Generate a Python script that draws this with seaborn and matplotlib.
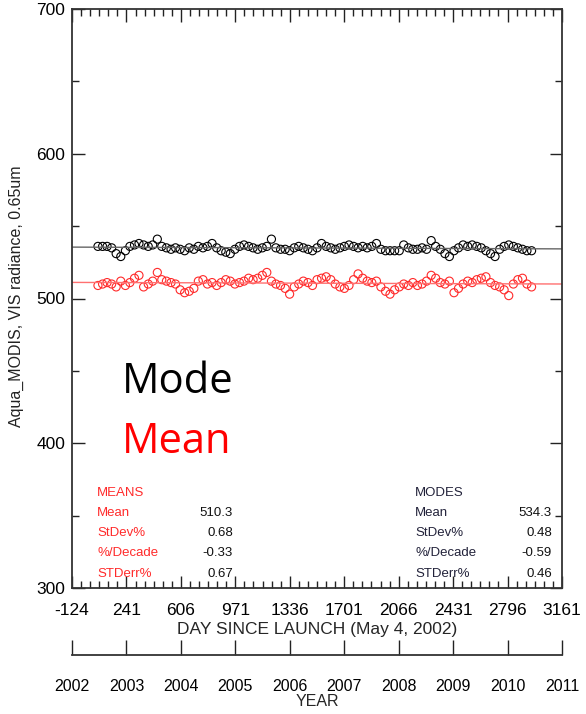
import numpy as np
import pandas as pd
import matplotlib
matplotlib.use('Agg')
import matplotlib.pyplot as plt
from matplotlib.ticker import AutoMinorLocator
import seaborn as sns

# days since launch of each monthly sample
days = [50, 81, 111, 142, 172, 203, 234, 264, 295, 325, 356, 387, 417, 448, 478, 509,
        540, 570, 601, 631, 662, 693, 723, 754, 784, 815, 846, 876, 907, 937, 968, 999,
        1029, 1060, 1090, 1121, 1152, 1182, 1213, 1243, 1274, 1305, 1335, 1366, 1396, 1427,
        1458, 1488, 1519, 1549, 1580, 1611, 1641, 1672, 1702, 1733, 1764, 1794, 1825, 1855,
        1886, 1917, 1947, 1978, 2008, 2039, 2070, 2100, 2131, 2161, 2192, 2223, 2253, 2284,
        2314, 2345, 2376, 2406, 2437, 2467, 2498, 2529, 2559, 2590, 2620, 2651, 2682, 2712,
        2743, 2773, 2804, 2835, 2865, 2896, 2926, 2957]

mode_vals = [536, 536, 536, 535, 531, 529, 533, 536, 537, 538, 537, 536, 537, 541,
             536, 535, 534, 535, 534, 533, 535, 534, 536, 535, 536, 538, 535, 533, 532, 531,
             534, 536, 537, 536, 535, 534, 535, 536, 541,
             535, 534, 534, 533, 535, 536, 535, 534, 533, 535, 538,
             536, 535, 534, 535, 536, 537, 536, 535, 536, 535, 536, 538,
             534, 533, 533, 533, 533, 537, 535, 534, 534, 535, 534, 540,
             536, 534, 531, 529, 533, 535, 537, 536, 537, 536, 535, 533,
             531, 529, 534, 536, 537, 536, 535, 534, 533, 533]

mean_vals = [509, 510, 511, 510, 508, 512, 509, 511, 514, 516, 508, 510, 512, 518,
             513, 512, 511, 510, 506, 504, 505, 507, 512, 513, 510, 511, 509,
             511, 513, 512, 510, 511, 512, 514, 513, 514, 516, 518, 512, 510, 509,
             507, 503, 508, 510, 512, 511, 509, 513, 514, 515, 513, 510, 508, 507, 509,
             513, 517, 514, 512, 511, 512, 508, 505, 503, 506, 508, 510, 509, 511, 509,
             510, 512, 516, 514, 511, 510, 512, 504, 507, 510, 512, 511, 513, 514, 515,
             511, 509, 508, 506, 502, 510, 513, 514, 510, 508]

day_ticks = [-124, 241, 606, 971, 1336, 1701, 2066, 2431, 2796, 3161]
year_ticks = [2002, 2003, 2004, 2005, 2006, 2007, 2008, 2009, 2010, 2011]
y_ticks = [300, 400, 500, 600, 700]

stat_names = ['Mean', 'StDev%', '%/Decade', 'STDerr%']
mean_stats = ['510.3', '0.68', '-0.33', '0.67']
mode_stats = ['534.3', '0.48', '-0.59', '0.46']

df = pd.DataFrame({'day': days, 'mode': mode_vals, 'mean': mean_vals})

sns.set_style('ticks')
plt.rcParams['font.family'] = ['Liberation Sans', 'DejaVu Sans']
plt.rcParams['axes.unicode_minus'] = False

W, H = 586, 714
fig = plt.figure(figsize=(W / 100, H / 100), dpi=100)
ax = fig.add_axes([72 / W, 1 - 588 / H, 490 / W, 579 / H])
ax.set_xlim(-124, 3161)
ax.set_ylim(300, 700)

red = '#ff2a2a'
sns.regplot(data=df, x='day', y='mode', ax=ax, ci=None, truncate=False,
            scatter_kws={'facecolors': 'none', 'edgecolors': 'black', 's': 34,
                         'linewidths': 0.8, 'alpha': 1},
            line_kws={'color': '#666666', 'lw': 1.0})
sns.regplot(data=df, x='day', y='mean', ax=ax, ci=None, truncate=False,
            scatter_kws={'facecolors': 'none', 'edgecolors': red, 's': 34,
                         'linewidths': 0.8, 'alpha': 1},
            line_kws={'color': '#ff7070', 'lw': 1.0})
ax.set_xlim(-124, 3161)
ax.set_ylim(300, 700)

ax.set_xticks(day_ticks)
ax.set_yticks(y_ticks)
ax.xaxis.set_minor_locator(AutoMinorLocator(6))
ax.yaxis.set_minor_locator(AutoMinorLocator(2))
ax.tick_params(which='both', direction='in', top=True, right=True, colors='#222222',
               width=1.0, labelsize=12.5, labelcolor='black')
ax.tick_params(which='major', length=9)
ax.tick_params(which='minor', length=5)
ax.tick_params(axis='x', pad=11)
ax.tick_params(axis='y', pad=5)
for s in ax.spines.values():
    s.set_linewidth(1.3)
    s.set_color('#333333')
ax.set_xlabel('DAY SINCE LAUNCH (May 4, 2002)', fontsize=12.5, labelpad=3)
ax.set_ylabel('')

fig.text(16 / W, 1 - 296 / H, 'Aqua_MODIS, VIS radiance, 0.65um', rotation=90,
         ha='center', va='center', fontsize=11.5, color='#222222')

# stats boxes
rows_y = [513, 533, 553, 574]
fs = 9.5
fig.text(97 / W, 1 - 493 / H, 'MEANS', color=red, fontsize=fs, va='center')
fig.text(415 / W, 1 - 493 / H, 'MODES', color='#22223a', fontsize=fs, va='center')
for name, mv, dv, py in zip(stat_names, mean_stats, mode_stats, rows_y):
    fig.text(97 / W, 1 - py / H, name, color=red, fontsize=fs, va='center')
    fig.text(233 / W, 1 - py / H, mv, color='#111111', fontsize=fs, va='center', ha='right')
    fig.text(415 / W, 1 - py / H, name, color='#22223a', fontsize=fs, va='center')
    fig.text(552 / W, 1 - py / H, dv, color='#111111', fontsize=fs, va='center', ha='right')

fig.text(122 / W, 1 - 382 / H, 'Mode', color='black', fontsize=30, va='center',
         family=['Open Sans', 'DejaVu Sans'])
fig.text(122 / W, 1 - 442 / H, 'Mean', color='red', fontsize=30, va='center',
         family=['Open Sans', 'DejaVu Sans'])

# year axis below
ax2 = fig.add_axes([72 / W, 1 - 655 / H, 490 / W, 0.0001])
ax2.patch.set_visible(False)
for k in ['left', 'right', 'top']:
    ax2.spines[k].set_visible(False)
ax2.spines['bottom'].set_linewidth(1.3)
ax2.spines['bottom'].set_color('#333333')
ax2.set_xlim(2002, 2011)
ax2.set_xticks(year_ticks)
ax2.set_yticks([])
ax2.tick_params(axis='x', direction='in', length=11, width=1.0, pad=17,
                labelsize=11.5, colors='#222222', labelcolor='black')
ax2.set_xlabel('YEAR', fontsize=11.5, labelpad=0)

fig.savefig('out.png', dpi=100)
